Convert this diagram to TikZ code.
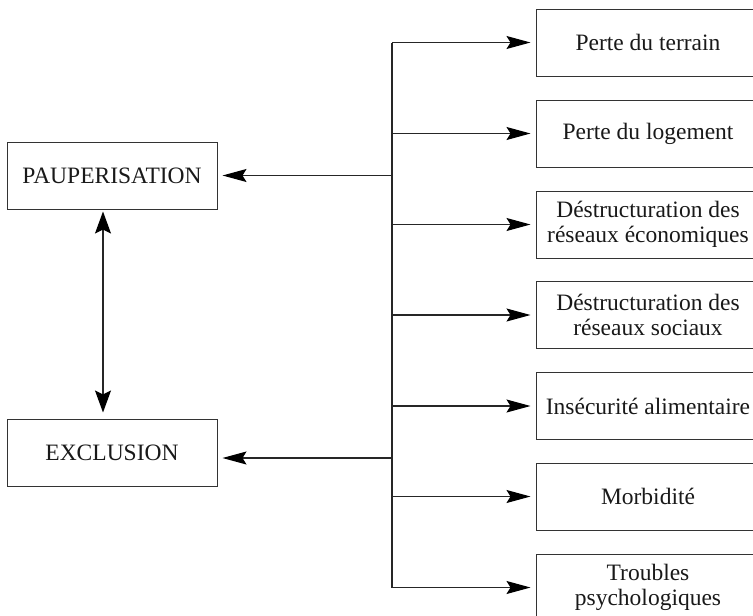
\documentclass[tikz,border=0pt]{standalone}
\usepackage{fontspec}
\setmainfont{Liberation Serif}
\usetikzlibrary{arrows.meta}
\begin{document}
\begin{tikzpicture}[x=1pt,y=-1pt,
  every node/.style={font=\fontsize{23.5}{25}\selectfont, text=black!90},
  box/.style={draw=black!80, line width=1pt, inner sep=0pt, align=center,
              minimum height=67pt},
  causebox/.style={box, minimum width=210pt},
  effectbox/.style={box, minimum width=224pt},
  link/.style={draw=black!85, line width=1.1pt},
  arrowlink/.style={link, -{Stealth[length=24pt,width=13pt,inset=4pt,color=black]}},
  twoway/.style={link, {Stealth[length=22pt,width=16pt,inset=4pt,color=black]}-{Stealth[length=22pt,width=16pt,inset=4pt,color=black]}}
]
\useasboundingbox (0,0) rectangle (753,616);
\clip (0,0) rectangle (753,616);

% consequences on the left
\node[causebox] (paup) at (112,175.5) {PAUPERISATION};
\node[causebox] (excl) at (112,452.5) {EXCLUSION};

% causes on the right
\node[effectbox] (e1) at (648,42.5)  {Perte du terrain};
\node[effectbox] (e2) at (648,133.5) {Perte du logement};
\node[effectbox] (e3) at (648,224.5) {Déstructuration des\\réseaux économiques};
\node[effectbox] (e4) at (648,315)   {Déstructuration des\\réseaux sociaux};
\node[effectbox] (e5) at (648,406)   {Insécurité alimentaire};
\node[effectbox] (e6) at (648,496.5) {Morbidité};
\node[effectbox] (e7) at (648,587.5) {Troubles\\psychologiques};

% vertical spine
\coordinate (top) at (392,42.5);
\coordinate (bot) at (392,587.5);
\coordinate (sp) at (392,175.5);
\coordinate (se) at (392,458);
\draw[link] (top) -- (bot);

% branches to the right boxes
\foreach \n in {e1,e2,e3,e4,e5,e6,e7}
  \draw[arrowlink, shorten >=5pt] (\n.west -| top) -- (\n.west);

% branches to the left boxes
\draw[arrowlink, shorten >=5pt] (sp) -- (paup.east |- sp);
\draw[arrowlink, shorten >=5pt] (se) -- (excl.east |- se);

% two-way link between the left boxes
\draw[twoway, shorten <=2pt, shorten >=6pt] ([xshift=-9pt]paup.south) -- ([xshift=-9pt]excl.north);
\end{tikzpicture}
\end{document}
